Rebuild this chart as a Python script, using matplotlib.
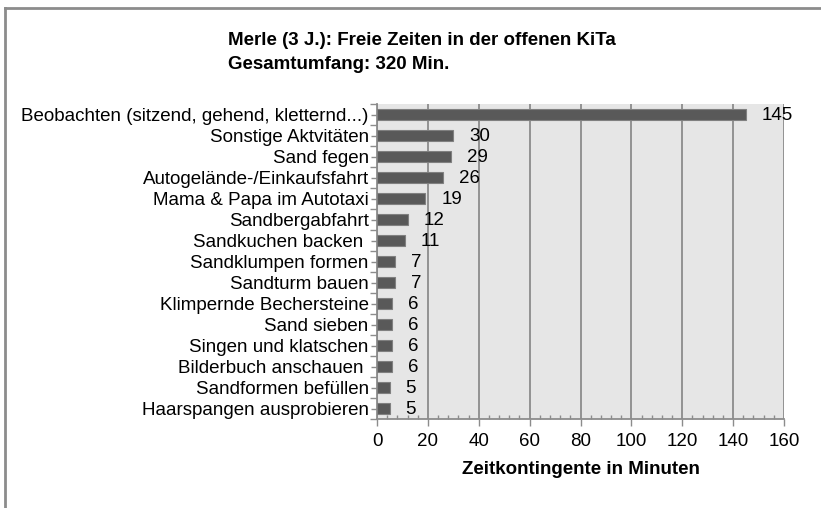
import numpy as np
import matplotlib
matplotlib.use("Agg")
from matplotlib import pyplot as plt
from matplotlib.ticker import MultipleLocator, FixedLocator
from matplotlib.lines import Line2D

plt.rcParams['font.family'] = ['Liberation Sans', 'DejaVu Sans']

categories = ['Beobachten (sitzend, gehend, kletternd...)', 'Sonstige Aktvitäten', 'Sand fegen',
              'Autogelände-/Einkaufsfahrt', 'Mama & Papa im Autotaxi', 'Sandbergabfahrt',
              'Sandkuchen backen ', 'Sandklumpen formen', 'Sandturm bauen', 'Klimpernde Bechersteine',
              'Sand sieben', 'Singen und klatschen', 'Bilderbuch anschauen ', 'Sandformen befüllen',
              'Haarspangen ausprobieren']
minutes = [145, 30, 29, 26, 19, 12, 11, 7, 7, 6, 6, 6, 6, 5, 5]
x_ticks = [0, 20, 40, 60, 80, 100, 120, 140, 160]

title_lines = ['Merle (3 J.): Freie Zeiten in der offenen KiTa', 'Gesamtumfang: 320 Min.']
x_title = 'Zeitkontingente in Minuten'

fs = 13.5

fig = plt.figure(figsize=(8.21, 5.08), dpi=100)
ax = fig.add_axes([377 / 821, 1 - 419 / 508, 407 / 821, 315 / 508])

n = len(categories)
y = np.arange(n)[::-1]
ax.barh(y, minutes, height=0.48, color='#595959', edgecolor='#808080', linewidth=0.8, zorder=3)

for yi, v in zip(y, minutes):
    ax.annotate(str(v), xy=(v, yi), xytext=(11.5, -1), textcoords='offset points',
                va='center', ha='left', fontsize=fs, color='black', zorder=4)

ax.set_facecolor('#e6e6e6')
ax.set_xlim(0, 160)
ax.set_ylim(-0.5, n - 0.5)
ax.xaxis.set_major_locator(FixedLocator(x_ticks))
ax.xaxis.set_minor_locator(MultipleLocator(4))
ax.grid(axis='x', which='major', color='#8c8c8c', linewidth=1.3, zorder=1)
ax.set_axisbelow(True)

ax.set_yticks(y)
ax.set_yticklabels(categories, fontsize=fs)
ax.yaxis.set_minor_locator(FixedLocator(np.arange(-0.5, n, 1.0)))
ax.tick_params(axis='y', which='major', length=4, width=1, color='#8c8c8c', pad=2)
ax.tick_params(axis='y', which='minor', length=5, width=1, color='#8c8c8c')
ax.tick_params(axis='x', which='major', length=5, width=1, color='#8c8c8c', labelsize=fs, pad=5)
ax.tick_params(axis='x', which='minor', direction='in', length=3, width=1, color='#8c8c8c')

for side in ['top', 'right']:
    ax.spines[side].set_visible(False)
for side in ['left', 'bottom']:
    ax.spines[side].set_color('#8c8c8c')
    ax.spines[side].set_linewidth(1.3)

ax.set_xlabel(x_title, fontsize=fs, fontweight='bold', labelpad=8)

fig.text(228 / 821, 1 - 45 / 508, title_lines[0], fontsize=fs, fontweight='bold', ha='left', va='baseline')
fig.text(228 / 821, 1 - 69 / 508, title_lines[1], fontsize=fs, fontweight='bold', ha='left', va='baseline')

# outer frame
fig.add_artist(Line2D([5 / 821, 5 / 821], [0, 1 - 8 / 508], transform=fig.transFigure,
                      color='#8c8c8c', linewidth=2))
fig.add_artist(Line2D([5 / 821, 1], [1 - 8 / 508, 1 - 8 / 508], transform=fig.transFigure,
                      color='#8c8c8c', linewidth=2))

fig.savefig('out.png', dpi=100)
